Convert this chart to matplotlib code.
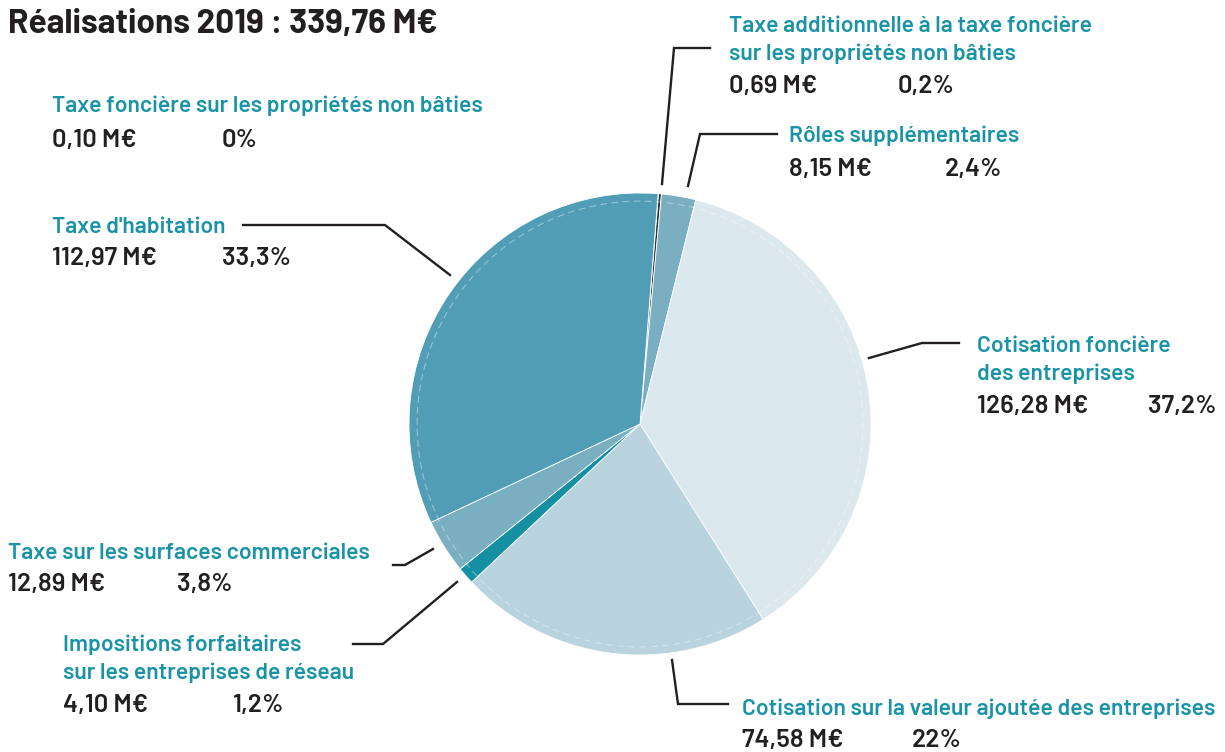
import matplotlib.pyplot as plt
from matplotlib.patches import Circle

# Recettes fiscales 2019 (M€)
libelles = [
    "Taxe foncière sur les propriétés non bâties",
    "Taxe additionnelle à la taxe foncière\nsur les propriétés non bâties",
    "Rôles supplémentaires",
    "Cotisation foncière\ndes entreprises",
    "Cotisation sur la valeur ajoutée des entreprises",
    "Impositions forfaitaires\nsur les entreprises de réseau",
    "Taxe sur les surfaces commerciales",
    "Taxe d'habitation",
]
montants = [0.10, 0.69, 8.15, 126.28, 74.58, 4.10, 12.89, 112.97]
montants_txt = ["0,10 M€", "0,69 M€", "8,15 M€", "126,28 M€", "74,58 M€", "4,10 M€", "12,89 M€", "112,97 M€"]
parts_txt = ["0%", "0,2%", "2,4%", "37,2%", "22%", "1,2%", "3,8%", "33,3%"]
couleurs = ["#509db5", "#333333", "#79afc1", "#dbe8ee", "#b9d3df", "#1590a3", "#7aafc2", "#509db5"]

TEAL = "#1a93a6"
NOIR = "#231f20"
W, H = 1225, 752

plt.rcParams['font.family'] = ['Barlow', 'DejaVu Sans']

fig = plt.figure(figsize=(W / 100, H / 100), dpi=100)
ax = fig.add_axes([0, 0, 1, 1])

cx, cy, r = 640, H - 424, 231
ax.pie(montants, colors=couleurs, startangle=85.5, counterclock=False,
       center=(cx, cy), radius=r, frame=True,
       wedgeprops=dict(edgecolor='white', linewidth=0.6))
ax.set_xlim(0, W)
ax.set_ylim(0, H)
ax.set_aspect('equal')
ax.axis('off')
ax.add_patch(Circle((cx, cy), r * 0.965, fill=False, edgecolor='white',
                    linewidth=0.8, alpha=0.4, linestyle=(0, (6, 4))))

def Y(y):
    return H - y

# titre
ax.text(8, Y(33), "Réalisations 2019 : 339,76 M€", fontsize=24, fontweight='bold',
        color=NOIR, va='baseline')

# x du libellé, ligne de base de la 1re ligne, ligne de base des valeurs, x du pourcentage
positions = [
    (52, 112, 147, 222),
    (729, 32, 93, 898),
    (789, 142, 176, 945),
    (977, 352, 413, 1148),
    (742, 715, 747, 912),
    (63, 651, 712, 233),
    (8, 559, 591, 177),
    (52, 233, 265, 222),
]

for lib, mt, pc, (x, yl, yv, xp) in zip(libelles, montants_txt, parts_txt, positions):
    for i, l in enumerate(lib.split("\n")):
        ax.text(x, Y(yl + 28 * i), l, fontsize=16.5, fontweight='semibold',
                color=TEAL, va='baseline')
    ax.text(x, Y(yv), mt, fontsize=18.5, fontweight='semibold', color=NOIR, va='baseline')
    ax.text(xp, Y(yv), pc, fontsize=18.5, fontweight='semibold', color=NOIR, va='baseline')

# traits de rappel
traits = [
    [(662, 184), (674, 48), (710, 48)],
    [(688, 186), (700, 134), (777, 134)],
    [(869, 358), (922, 343), (959, 343)],
    [(672, 660), (678, 704), (728, 704)],
    [(457, 582), (383, 644), (353, 644)],
    [(433, 549), (405, 565), (393, 565)],
    [(450, 275), (385, 225), (243, 225)],
]
for t in traits:
    xs = [p[0] for p in t]
    ys = [Y(p[1]) for p in t]
    ax.plot(xs, ys, color=NOIR, linewidth=1.7, solid_joinstyle='miter')

fig.savefig("out.png", dpi=100)
